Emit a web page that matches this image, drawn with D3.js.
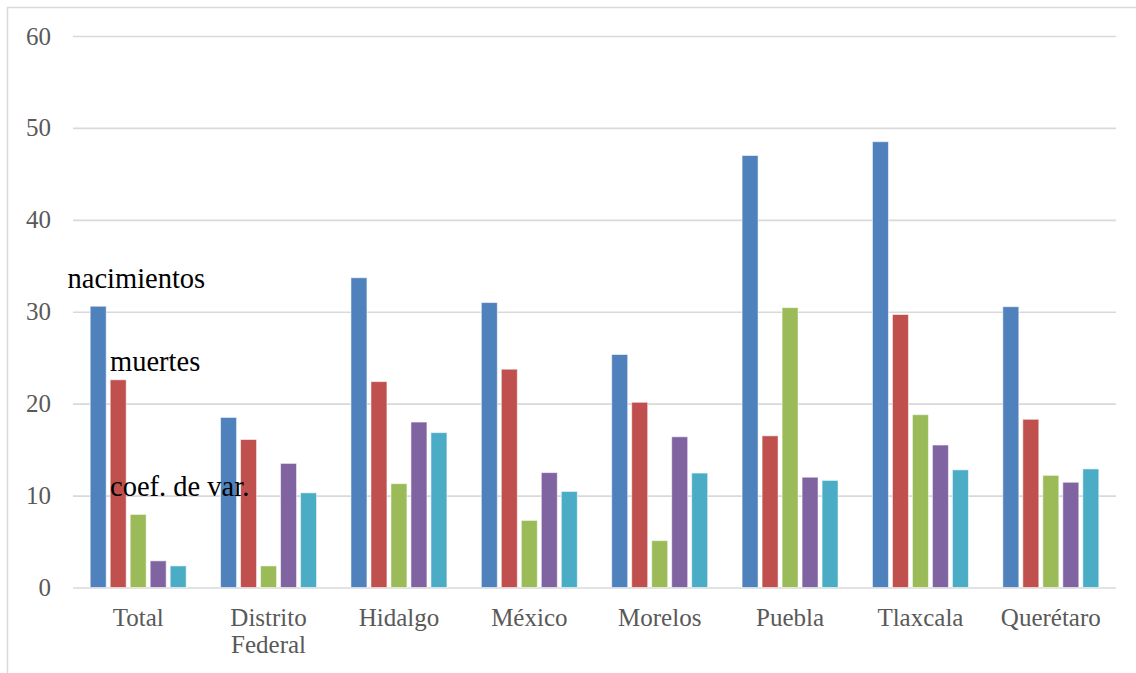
<!DOCTYPE html>
<html>
<head>
<meta charset="utf-8">
<script src="https://cdn.jsdelivr.net/npm/d3@7"></script>
<style>
  html, body { margin: 0; padding: 0; background: #fff; }
  svg { display: block; }
</style>
</head>
<body>
<svg id="chart" width="1136" height="673"></svg>
<script>
const categories = ["Total", "Distrito Federal", "Hidalgo", "México", "Morelos", "Puebla", "Tlaxcala", "Querétaro"];
const seriesNames = ["s1", "s2", "s3", "s4", "s5"];
const s1 = [30.6, 18.5, 33.7, 31.0, 25.35, 47.0, 48.5, 30.55];
const s2 = [22.6, 16.1, 22.4, 23.75, 20.15, 16.5, 29.7, 18.3];
const s3 = [7.95, 2.35, 11.3, 7.3, 5.1, 30.45, 18.8, 12.2];
const s4 = [2.9, 13.5, 18.0, 12.5, 16.4, 12.0, 15.5, 11.45];
const s5 = [2.35, 10.3, 16.85, 10.45, 12.45, 11.65, 12.8, 12.9];
const yTicks = [0, 10, 20, 30, 40, 50, 60];
const colors = ["#4F81BD", "#C0504D", "#9BBB59", "#8064A2", "#4BACC6"];
const annotations = ["nacimientos", "muertes", "coef. de var."];

(function () {
const values = [s1, s2, s3, s4, s5];
const svg = d3.select("#chart");

// outer chart border
svg.append("rect").attr("x", 7.5).attr("y", 7.5).attr("width", 1200).attr("height", 800)
  .attr("fill", "none").attr("stroke", "#d9d9d9").attr("stroke-width", 1.5);

const pLeft = 73, pRight = 1116, pTop = 36, pBottom = 587.5;
const x0 = d3.scaleBand().domain(categories).range([pLeft, pRight]).padding(0);
const x1 = d3.scaleBand().domain(seriesNames).range([0, x0.bandwidth()])
  .paddingInner(0.2).paddingOuter(0.86);
const y = d3.scaleLinear().domain([0, 60]).range([pBottom, pTop]);

// gridlines
const grid = svg.append("g").attr("transform", `translate(${pLeft},0)`)
  .call(d3.axisLeft(y).tickValues(yTicks).tickSize(-(pRight - pLeft)).tickFormat(""));
grid.select(".domain").remove();
grid.selectAll("line").attr("stroke", "#d9d9d9").attr("stroke-width", 1.6);

// y labels
const yAxis = svg.append("g").attr("transform", `translate(51,0)`)
  .call(d3.axisLeft(y).tickValues(yTicks).tickSize(0).tickPadding(0));
yAxis.select(".domain").remove();
yAxis.selectAll("text").attr("font-family", "'Liberation Serif', serif")
  .attr("font-size", 25).attr("fill", "#595959").attr("dy", "0.32em");

// bars
const groups = svg.append("g").selectAll("g").data(categories).join("g")
  .attr("transform", d => `translate(${x0(d)},0)`);
groups.selectAll("rect")
  .data((c, ci) => seriesNames.map((s, si) => ({ s, si, v: values[si][ci] })))
  .join("rect")
  .attr("x", d => x1(d.s))
  .attr("width", x1.bandwidth())
  .attr("y", d => y(d.v))
  .attr("height", d => y(0) - y(d.v))
  .attr("fill", d => colors[d.si])
  .attr("stroke", "rgba(255,255,255,0.55)")
  .attr("stroke-width", 1);

// x labels
const xAxis = svg.append("g").attr("transform", `translate(0,${pBottom})`)
  .call(d3.axisBottom(x0).tickSize(0).tickFormat(""));
xAxis.select(".domain").remove();
xAxis.selectAll(".tick").each(function(d) {
  const t = d3.select(this).append("text")
    .attr("font-family", "'Liberation Serif', serif")
    .attr("font-size", 25).attr("fill", "#595959")
    .attr("text-anchor", "middle").attr("y", 38.5);
  d.split(" ").forEach((w, i) => {
    t.append("tspan").attr("x", 0).attr("dy", i === 0 ? 0 : 27).text(w);
  });
});

// annotations
const annPos = [[67.5, 288], [110, 371], [110, 496]];
svg.append("g").selectAll("text").data(annotations).join("text")
  .attr("x", (d, i) => annPos[i][0]).attr("y", (d, i) => annPos[i][1])
  .attr("font-family", "'Liberation Serif', serif")
  .attr("font-size", 28.5).attr("fill", "#000")
  .text(d => d);
})();
</script>
</body>
</html>
